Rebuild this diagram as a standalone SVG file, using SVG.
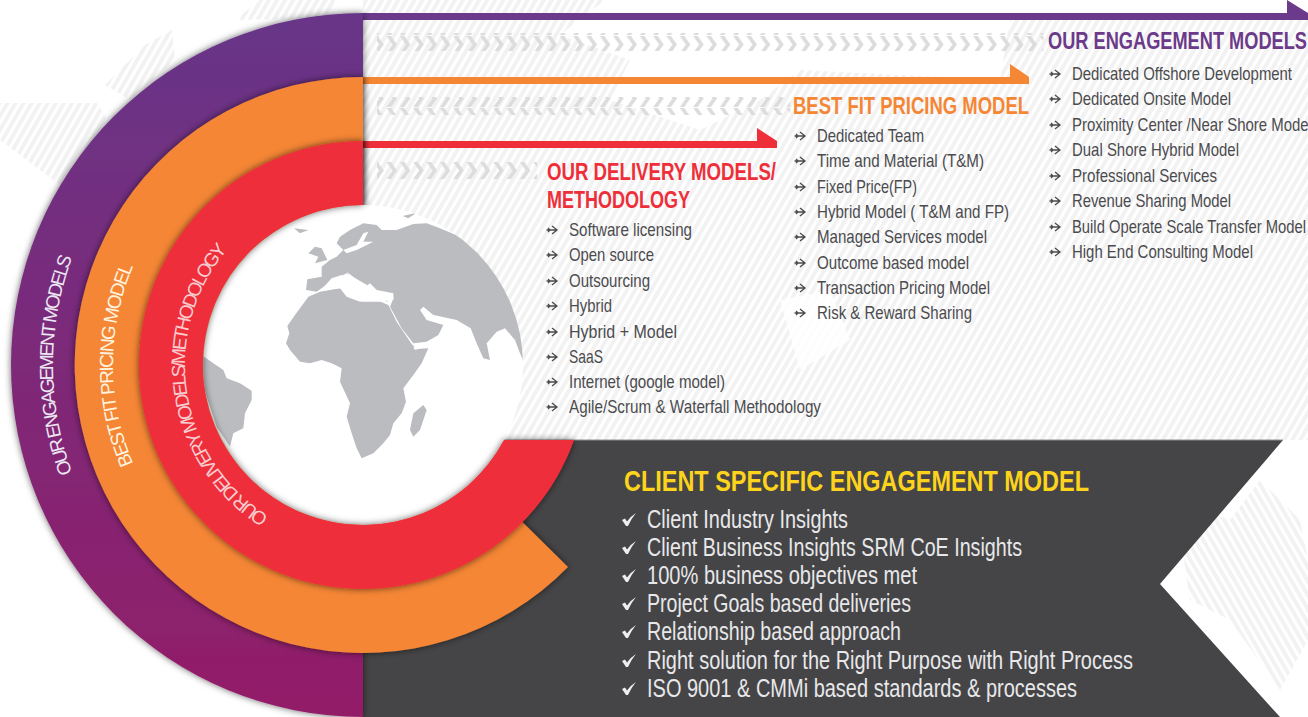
<svg xmlns="http://www.w3.org/2000/svg" xmlns:xlink="http://www.w3.org/1999/xlink" width="1308" height="717" viewBox="0 0 1308 717">
<style>
text{font-family:"Liberation Sans Narrow","Liberation Sans",Arial,sans-serif}
.h{font-weight:700;font-size:24px}
.li{font-size:18.5px;fill:#4b4b4e}
.pl{font-size:25px;fill:#e8e8ea}
.ring{font-size:19px;font-weight:400}
.land{fill:#bbbcbf}
.bg{fill:url(#stripes)}
.bg2{fill:url(#stripes2)}
.ar{fill:none;stroke:#4b4b4e;stroke-width:1.3}
</style>
<defs>
<pattern id="stripes" width="7" height="7" patternUnits="userSpaceOnUse" patternTransform="rotate(30)"><rect width="4" height="7" fill="#f2f2f3"/></pattern>
<pattern id="stripes2" width="7" height="7" patternUnits="userSpaceOnUse" patternTransform="rotate(-30)"><rect width="4" height="7" fill="#f2f2f3"/></pattern>
<pattern id="chev" width="13.33" height="18" patternUnits="userSpaceOnUse"><polygon points="0,0 4.5,0 10.5,8.5 4.5,17 0,17 6,8.5" fill="#dcdcdd"/></pattern>
<linearGradient id="pg" x1="0" y1="0" x2="0" y2="1"><stop offset="0" stop-color="#673588"/><stop offset="1" stop-color="#931d68"/></linearGradient>
<filter id="sh" x="-10%" y="-10%" width="120%" height="120%"><feDropShadow dx="0" dy="0" stdDeviation="3.5" flood-color="#000" flood-opacity=".6"/></filter>
<clipPath id="disc"><circle cx="363" cy="365" r="160"/></clipPath>
<path id="rp1" d="M363,675 A310,310 0 0 1 363,55"/>
<path id="rp2" d="M363,615 A250,250 0 0 1 363,115"/>
<path id="rp3" d="M363,543 A178,178 0 0 1 363,187"/>
<symbol id="a" viewBox="0 0 12 10" width="12" height="10" overflow="visible"><path class="ar" d="M0.5,5H10.5M6,1L11,5L6,9M2,3L4,5L2,7"/></symbol>
<symbol id="c" viewBox="0 0 14 13" width="14" height="13" overflow="visible"><path fill="#eeeeef" d="M0,7L3,5.5L5,8.5Q9,3 14,0Q9,6 6,13H4Z"/></symbol>
</defs>

<g id="background">
<rect width="1308" height="717" fill="#fff"/>
<path class="bg" d="M0,103H97L125,150L60,185L0,140Z"/>
<path class="bg" d="M105,85L145,45L172,30L175,60L130,100Z"/>
<path class="bg" d="M235,20L260,0H335L330,18Z"/>
<path class="bg" d="M363,0H605L560,35L630,60L610,100L700,130L760,100L800,70L1000,80L1010,20L1308,20V440H363Z"/>
<path class="bg2" d="M1175,500L1230,520L1260,480L1300,520L1308,560V640L1280,690L1230,620L1190,600Z"/>
<path fill="#fff" d="M780,300L830,290L850,340L800,370Z" opacity=".8"/>
</g>

<g id="panel">
<polygon points="363,440 1283,440 1160,584 1280,717 363,717" fill="#454547"/>
<line x1="363" y1="440" x2="1283" y2="440" stroke="#8f8f90" stroke-width="1"/>
</g>

<g id="connectors">
<polygon points="363,13 1287,13 1287,0 1308,13 1308,20 363,20" fill="#6b3a8a"/>
<polygon points="363,77 1010,77 1010,64 1029,77 1029,84 363,84" fill="#f58634"/>
<polygon points="363,141 757,141 757,128 777,141 777,148 363,148" fill="#ee2f3a"/>
</g>

<g id="chevrons">
<rect x="377" y="33" width="666.5" height="18" fill="url(#chev)" transform="translate(0,0)"/>
<rect x="377" y="97" width="413.2" height="18" fill="url(#chev)"/>
<rect x="377" y="162" width="160" height="18" fill="url(#chev)"/>
</g>

<g id="ring-engagement">
<path d="M363,13 A352,352 0 0 0 363,717 Z" fill="url(#pg)" filter="url(#sh)"/>
<text class="ring" fill="#ece6f2"><textPath href="#rp1" startOffset="50%" text-anchor="middle" textLength="220">OUR ENGAGEMENT MODELS</textPath></text>
</g>

<g id="ring-pricing">
<path d="M363,77 A288,288 0 1 0 568,567 L363,365 Z" fill="#f58634" filter="url(#sh)"/>
<text class="ring" fill="#fff3df"><textPath href="#rp2" startOffset="50%" text-anchor="middle" textLength="203">BEST FIT PRICING MODEL</textPath></text>
</g>

<g id="globe">
<circle cx="363" cy="365" r="160" fill="#fff"/>
<g clip-path="url(#disc)"><g transform="translate(200,200) scale(.33333)">
<path class="land" d="M262,378L285,345L300,325L325,290L360,275L420,265L440,290L480,305L530,300L565,315L590,365L635,432L650,447L685,445L665,490L640,525L610,565L618,605L605,640L580,670L570,705L550,730L520,760L485,775L470,745L455,700L440,650L450,610L420,545L425,505L395,490L365,480L330,490L300,485L270,450L258,430L268,400Z"/>
<path class="land" d="M318,270L322,238L365,230L365,200L390,180L410,170L430,150L410,130L420,110L450,90L490,70L530,75L545,90L590,90L640,72L680,70L720,85L780,110L830,150L880,210L920,280L950,340L970,420L978,500L960,460L945,420L915,385L890,395L860,430L870,480L850,475L830,430L812,385L770,360L725,350L700,345L670,320L660,330L680,360L730,375L715,405L680,425L640,430L605,385L570,320L582,290L560,305L510,260L440,220L400,240L350,275Z"/>
<path fill="#fff" d="M365,268L395,235L425,225L440,240L460,265L455,235L440,215L465,235L490,265L510,250L530,270L580,280L580,300L540,305L490,305L470,295L440,285L425,265Z"/>
<path fill="#fff" d="M640,442L690,428L688,436L645,450Z"/>
<path fill="#fff" d="M430,150L470,135L490,100L505,95L490,125L520,125L470,150L440,160Z"/>
<path class="land" d="M325,160L345,140L365,145L382,180L345,190L355,170Z"/>
<path class="land" d="M670,615L680,630L660,690L640,710L630,690L640,640Z"/>
<path class="land" d="M282,85L325,90L300,100Z"/>
<path class="land" d="M608,48L650,38L625,55Z"/>
<path class="land" d="M0,462L40,490L70,510L80,535L120,550L155,572L155,600L135,640L130,685L100,700L90,740L50,680L20,590L0,520Z"/>
</g></g>
</g>

<g id="ring-delivery">
<path d="M363,141 A224,224 0 1 0 574,440 L504,440 A160,160 0 1 1 363,205 Z" fill="#ee2f3a" filter="url(#sh)"/>
<text class="ring" fill="#f9cdd0"><textPath href="#rp3" startOffset="45.1%" text-anchor="middle" textLength="306">OUR DELIVERY MODELS/METHODOLOGY</textPath></text>
</g>

<g id="delivery-list">
<text class="h" fill="#ee2f3a" x="547" y="180" textLength="229" lengthAdjust="spacingAndGlyphs">OUR DELIVERY MODELS/</text>
<text class="h" fill="#ee2f3a" x="547" y="208" textLength="143" lengthAdjust="spacingAndGlyphs">METHODOLOGY</text>
<use href="#a" x="546" y="225"/><text class="li" x="569" y="236" textLength="123" lengthAdjust="spacingAndGlyphs">Software licensing</text>
<use href="#a" x="546" y="250"/><text class="li" x="569" y="261" textLength="85" lengthAdjust="spacingAndGlyphs">Open source</text>
<use href="#a" x="546" y="276"/><text class="li" x="569" y="287" textLength="81" lengthAdjust="spacingAndGlyphs">Outsourcing</text>
<use href="#a" x="546" y="301"/><text class="li" x="569" y="312" textLength="43" lengthAdjust="spacingAndGlyphs">Hybrid</text>
<use href="#a" x="546" y="327"/><text class="li" x="569" y="338" textLength="108" lengthAdjust="spacingAndGlyphs">Hybrid + Model</text>
<use href="#a" x="546" y="352"/><text class="li" x="569" y="363" textLength="34" lengthAdjust="spacingAndGlyphs">SaaS</text>
<use href="#a" x="546" y="377"/><text class="li" x="569" y="388" textLength="156" lengthAdjust="spacingAndGlyphs">Internet (google model)</text>
<use href="#a" x="546" y="402"/><text class="li" x="569" y="413" textLength="252" lengthAdjust="spacingAndGlyphs">Agile/Scrum &amp; Waterfall Methodology</text>
</g>

<g id="pricing-list">
<text class="h" fill="#f58634" x="793" y="114" textLength="236" lengthAdjust="spacingAndGlyphs">BEST FIT PRICING MODEL</text>
<use href="#a" x="794" y="131"/><text class="li" x="817" y="142" textLength="107" lengthAdjust="spacingAndGlyphs">Dedicated Team</text>
<use href="#a" x="794" y="156"/><text class="li" x="817" y="167" textLength="167" lengthAdjust="spacingAndGlyphs">Time and Material (T&amp;M)</text>
<use href="#a" x="794" y="182"/><text class="li" x="817" y="193" textLength="100" lengthAdjust="spacingAndGlyphs">Fixed Price(FP)</text>
<use href="#a" x="794" y="207"/><text class="li" x="817" y="218" textLength="192" lengthAdjust="spacingAndGlyphs">Hybrid Model ( T&amp;M and FP)</text>
<use href="#a" x="794" y="232"/><text class="li" x="817" y="243" textLength="170" lengthAdjust="spacingAndGlyphs">Managed Services model</text>
<use href="#a" x="794" y="258"/><text class="li" x="817" y="269" textLength="152" lengthAdjust="spacingAndGlyphs">Outcome based model</text>
<use href="#a" x="794" y="283"/><text class="li" x="817" y="294" textLength="173" lengthAdjust="spacingAndGlyphs">Transaction Pricing Model</text>
<use href="#a" x="794" y="308"/><text class="li" x="817" y="319" textLength="155" lengthAdjust="spacingAndGlyphs">Risk &amp; Reward Sharing</text>
</g>

<g id="engagement-list">
<text class="h" fill="#6b3a8a" x="1048" y="49" textLength="259" lengthAdjust="spacingAndGlyphs">OUR ENGAGEMENT MODELS</text>
<use href="#a" x="1049" y="69"/><text class="li" x="1072" y="80" textLength="220" lengthAdjust="spacingAndGlyphs">Dedicated Offshore Development</text>
<use href="#a" x="1049" y="94"/><text class="li" x="1072" y="105" textLength="159" lengthAdjust="spacingAndGlyphs">Dedicated Onsite Model</text>
<use href="#a" x="1049" y="120"/><text class="li" x="1072" y="131" textLength="240" lengthAdjust="spacingAndGlyphs">Proximity Center /Near Shore Model</text>
<use href="#a" x="1049" y="145"/><text class="li" x="1072" y="156" textLength="167" lengthAdjust="spacingAndGlyphs">Dual Shore Hybrid Model</text>
<use href="#a" x="1049" y="171"/><text class="li" x="1072" y="182" textLength="145" lengthAdjust="spacingAndGlyphs">Professional Services</text>
<use href="#a" x="1049" y="196"/><text class="li" x="1072" y="207" textLength="159" lengthAdjust="spacingAndGlyphs">Revenue Sharing Model</text>
<use href="#a" x="1049" y="222"/><text class="li" x="1072" y="233" textLength="234" lengthAdjust="spacingAndGlyphs">Build Operate Scale Transfer Model</text>
<use href="#a" x="1049" y="247"/><text class="li" x="1072" y="258" textLength="181" lengthAdjust="spacingAndGlyphs">High End Consulting Model</text>
</g>

<g id="client-list">
<text font-size="30" font-weight="700" fill="#fdd31c" x="624" y="491" textLength="465" lengthAdjust="spacingAndGlyphs">CLIENT SPECIFIC ENGAGEMENT MODEL</text>
<use href="#c" x="622" y="513"/><text class="pl" x="647" y="528" textLength="201" lengthAdjust="spacingAndGlyphs">Client Industry Insights</text>
<use href="#c" x="622" y="541"/><text class="pl" x="647" y="556" textLength="375" lengthAdjust="spacingAndGlyphs">Client Business Insights SRM CoE Insights</text>
<use href="#c" x="622" y="569"/><text class="pl" x="647" y="584" textLength="270" lengthAdjust="spacingAndGlyphs">100% business objectives met</text>
<use href="#c" x="622" y="597"/><text class="pl" x="647" y="612" textLength="264" lengthAdjust="spacingAndGlyphs">Project Goals based deliveries</text>
<use href="#c" x="622" y="625"/><text class="pl" x="647" y="640" textLength="254" lengthAdjust="spacingAndGlyphs">Relationship based approach</text>
<use href="#c" x="622" y="654"/><text class="pl" x="647" y="669" textLength="486" lengthAdjust="spacingAndGlyphs">Right solution for the Right Purpose with Right Process</text>
<use href="#c" x="622" y="682"/><text class="pl" x="647" y="697" textLength="430" lengthAdjust="spacingAndGlyphs">ISO 9001 &amp; CMMi based standards &amp; processes</text>
</g>
</svg>
